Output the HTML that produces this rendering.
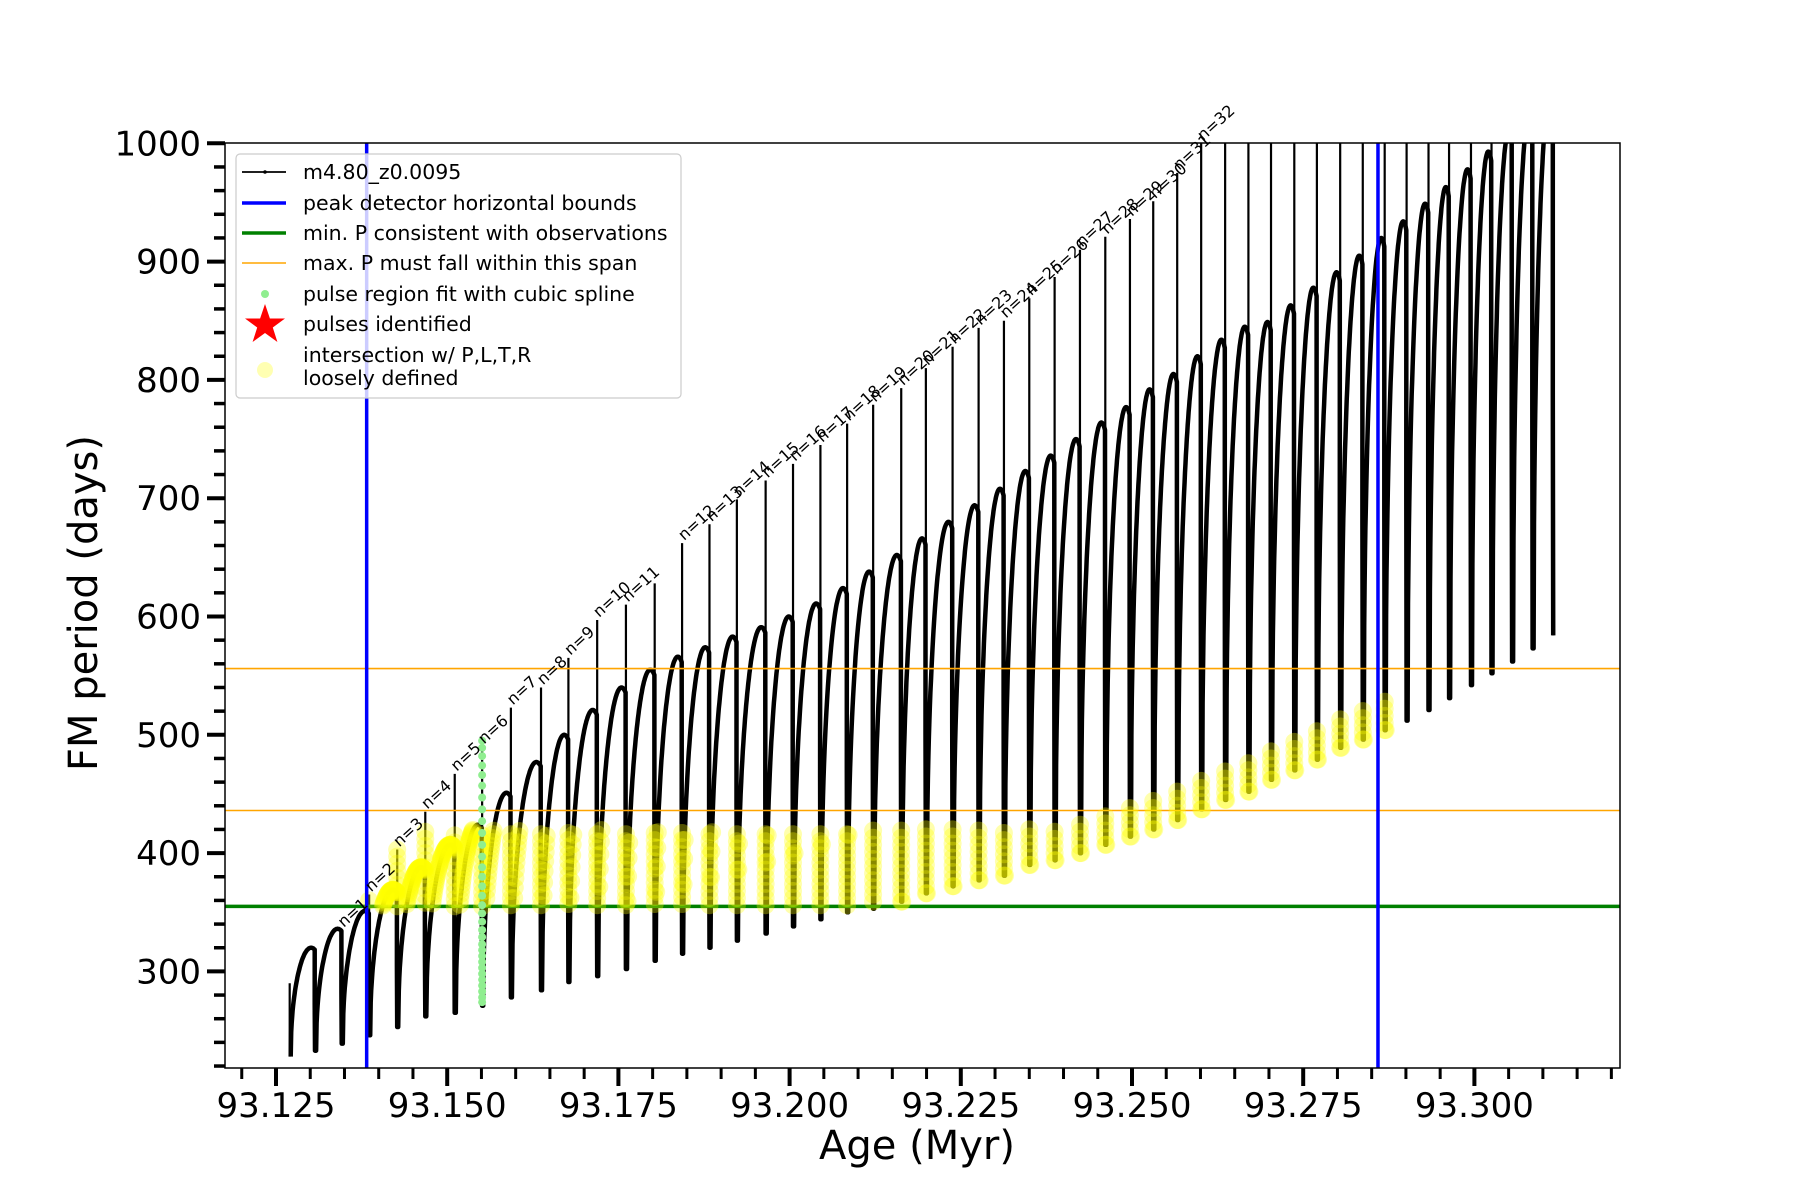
<!DOCTYPE html>
<html><head><meta charset="utf-8"><style>
html,body{margin:0;padding:0;background:#fff;}
svg{display:block;}
text{font-family:"DejaVu Sans","Liberation Sans",sans-serif;}
</style></head><body>
<svg id="chart" width="1800" height="1200" viewBox="0 0 1800 1200" xmlns="http://www.w3.org/2000/svg">
<rect x="0" y="0" width="1800" height="1200" fill="#fff"/>
<g id="plot"></g>
<g id="axes"></g>
<g id="legend"></g>
</svg>
<script>
// ---- data ----
const pulseAges=[93.1270,93.1307,93.1346,93.1386,93.1427,93.1468,93.1511,93.1551,93.1593,93.1637,
93.1677,93.1719,93.1761,93.1803,93.1843,93.1883,93.1923,93.1965,93.2005,93.2045,
93.2084,93.2122,93.2163,93.2199,93.2238,93.2276,93.2313,93.2350,93.2387,93.2424,
93.2461,93.2497,93.2531,93.2566,93.2601,93.2636,93.2670,93.2703,93.2737,93.2770,
93.2804,93.2837,93.2869,93.2901,93.2933,93.2963,93.2995,93.3025,93.3055,93.3085,93.3115];
const pulseMins=[228,233,239,246,253,262,265,271,278,284,291,296,302,309,315,320,326,332,338,344,
350,353,359,366,372,377,381,390,394,400,407,414,420,428,437,445,452,462,470,479,
489,496,504,512,521,531,542,552,562,573,584];
const archPeaks=[320,336,351,369,388,407,424,451,477,500,521,540,555,566,574,583,591,600,611,624,
638,652,666,680,694,708,723,736,750,764,777,792,805,820,834,845,849,863,878,891,
905,920,934,949,963,978,993,1010,1025,1040];
const spikeTops=[290,233,335,365,403,435,467,490,523,540,565,597,610,628,662,678,699,715,729,745,
763,779,793,810,828,844,850,869,887,910,921,936,951,975,1000,1010,1010,1010,1010,1010,
1010,1010,1010,1010,1010,1010,1010,1010,1010,1010,1010];
const labelPulseIdx=[2,3,4,5,6,7,8,9,10,11,12,14,15,16,17,18,19,20,21,22,23,24,25,26,27,28,29,30,31,32,33,34];
const greenAge=93.1551;
const greenVals=[495,489,482,474,466,457,447,437,427,417,407,397,388,380,372,364,356,349,342,335,329,323,318,313,308,303,298,293,288,283,278,274];
const blueBounds=[93.13824,93.28592];
const minP=355;
const maxPSpan=[436,556];
const yellowHi=420;
const yellowBand=28;
const xTicks=[93.125,93.150,93.175,93.200,93.225,93.250,93.275,93.300];
const xTickLabels=["93.125","93.150","93.175","93.200","93.225","93.250","93.275","93.300"];
const yTicks=[300,400,500,600,700,800,900,1000];
const yTickLabels=["300","400","500","600","700","800","900","1000"];

// ---- axes functions ----
const L=225,R=1620,T=143,B=1068;
const X=a=>276+(a-93.125)*6848;
const Y=v=>971.4-(v-300)*1.183;
const NS="http://www.w3.org/2000/svg";
function mk(tag,attrs,parent){const e=document.createElementNS(NS,tag);for(const k in attrs)e.setAttribute(k,attrs[k]);parent.appendChild(e);return e;}
const plot=document.getElementById('plot'),axes=document.getElementById('axes'),legend=document.getElementById('legend');

const defs=mk('defs',{},plot);
const cp=mk('clipPath',{id:'clip'},defs);
mk('rect',{x:L,y:T,width:R-L,height:B-T},cp);
const inner=mk('g',{'clip-path':'url(#clip)'},plot);



const yellowPts=[];
let d='';
const spikeG=mk('g',{},inner);


function inYellow(a,v,mn){return a>=blueBounds[0]-0.0005&&a<=blueBounds[1]+0.0012&&v>=minP&&v<=Math.max(yellowHi,mn+yellowBand);}
for(let i=0;i<pulseAges.length;i++){
  const a=pulseAges[i],mn=pulseMins[i],tp=spikeTops[i];
  if(tp>mn+2){
    const s=mk('line',{x1:X(a),y1:Y(mn),x2:X(a),y2:Y(tp),stroke:'#000','stroke-width':2.2},spikeG);
    
    
    for(let v=mn;v<=tp;v+=6){ if(inYellow(a,v,mn)) yellowPts.push([a,v]); }
  }
  if(i<archPeaks.length){
    const a2=pulseAges[i+1],pk=archPeaks[i];
    const span=a2-a-0.0002;
    for(let k=0;k<=50;k++){
      const t=k/50;
      const f=Math.pow(Math.max(0,Math.sin(Math.min(t/0.85,1.18)*Math.PI/2)),0.45);
      const aa=a+0.00015+t*span, vv=mn+(pk-mn)*f;
      d+=(d===''?'M':'L')+X(aa).toFixed(1)+' '+Y(vv).toFixed(1);
      if(inYellow(aa,vv,mn)) yellowPts.push([aa,vv]);
    }
    const mid=pulseMins[i+1]+(pk-pulseMins[i+1])*0.45;
    d+='L'+X(a2-0.00005).toFixed(1)+' '+Y(mid).toFixed(1);
    d+='L'+X(a2).toFixed(1)+' '+Y(pulseMins[i+1]).toFixed(1);
  }
}
const curve=mk('path',{d:d,fill:'none',stroke:'#000','stroke-width':4.5,'stroke-linejoin':'round'},inner);



const gl=mk('line',{x1:L,x2:R,y1:Y(minP),y2:Y(minP),stroke:'#008000','stroke-width':3.5},inner);


maxPSpan.forEach(v=>{const o=mk('line',{x1:L,x2:R,y1:Y(v),y2:Y(v),stroke:'#ffa500','stroke-width':1.6},inner);

});

const yg=mk('g',{fill:'#ffff00','fill-opacity':0.32},inner);


yellowPts.forEach(p=>{const c=mk('circle',{cx:X(p[0]).toFixed(1),cy:Y(p[1]).toFixed(1),r:9},yg);

});

const gg=mk('g',{fill:'#90ee90'},inner);


greenVals.forEach(v=>{const c=mk('circle',{cx:X(greenAge),cy:Y(v),r:4},gg);

});

blueBounds.forEach(a=>{const b=mk('line',{x1:X(a),x2:X(a),y1:T,y2:B,stroke:'#0000ff','stroke-width':3.5},inner);

});

labelPulseIdx.forEach((pi,k)=>{
  const x=X(pulseAges[pi])+2,y=Y(spikeTops[pi])-2;
  const t=mk('text',{x:x,y:y,'font-size':16,fill:'#000',transform:`rotate(-42 ${x} ${y})`},plot);
  t.textContent='n='+(k+1);
  
  
});

const fr=mk('rect',{x:L,y:T,width:R-L,height:B-T,fill:'none',stroke:'#000','stroke-width':1.5},axes);


for(let a=93.120;a<=93.3201;a+=0.005){
  const x=X(a); if(x<L-1||x>R+1) continue;
  const major=xTicks.some(t=>Math.abs(t-a)<1e-6);
  const tk=mk('line',{x1:x,x2:x,y1:B,y2:B+(major?18:11),stroke:'#000','stroke-width':major?4:3},axes);
  
  
}
xTicks.forEach((a,i)=>{const t=mk('text',{x:X(a),y:1117,'font-size':34,'text-anchor':'middle',fill:'#000'},axes);
t.textContent=xTickLabels[i];

});
for(let v=220;v<=1000;v+=20){
  const y=Y(v); if(y>B+1) continue;
  const major=v%100===0;
  const tk=mk('line',{x1:L,x2:L-(major?18:11),y1:y,y2:y,stroke:'#000','stroke-width':major?4:3.5},axes);
  
  
}
yTicks.forEach((v,i)=>{const t=mk('text',{x:201,y:Y(v)+12,'font-size':34,'text-anchor':'end',fill:'#000'},axes);
t.textContent=yTickLabels[i];

});
const xl=mk('text',{x:917,y:1159,'font-size':40,'text-anchor':'middle',fill:'#000'},axes);
xl.textContent='Age (Myr)';


const yl=mk('text',{x:0,y:0,'font-size':40,'text-anchor':'middle',fill:'#000',transform:'translate(97 603) rotate(-90)'},axes);
yl.textContent='FM period (days)';



const lb=mk('rect',{x:236,y:154,width:445,height:244,rx:4,fill:'#fff','fill-opacity':0.8,stroke:'#ccc','stroke-width':1.2},legend);


const entries=[
 {y:172,t:['m4.80_z0.0095'],n:'legend-model'},
 {y:203,t:['peak detector horizontal bounds'],n:'legend-peak-bounds'},
 {y:233,t:['min. P consistent with observations'],n:'legend-min-p'},
 {y:263,t:['max. P must fall within this span'],n:'legend-max-p'},
 {y:294,t:['pulse region fit with cubic spline'],n:'legend-spline'},
 {y:324,t:['pulses identified'],n:'legend-pulses'},
 {y:355,t:['intersection w/ P,L,T,R','loosely defined'],n:'legend-intersection'}];
entries.forEach((e,i)=>{
  const g=mk('g',{},legend);
  
  
  const hx1=242,hx2=286,cy=(i===6)?370:e.y;
  if(i===0){mk('line',{x1:hx1,x2:hx2,y1:cy,y2:cy,stroke:'#000','stroke-width':1.8},g);mk('circle',{cx:265,cy:cy,r:1.8,fill:'#000'},g);}
  if(i===1)mk('line',{x1:hx1,x2:hx2,y1:cy,y2:cy,stroke:'#0000ff','stroke-width':3.5},g);
  if(i===2)mk('line',{x1:hx1,x2:hx2,y1:cy,y2:cy,stroke:'#008000','stroke-width':3.5},g);
  if(i===3)mk('line',{x1:hx1,x2:hx2,y1:cy,y2:cy,stroke:'#ffa500','stroke-width':1.6},g);
  if(i===4)mk('circle',{cx:265,cy:cy,r:4,fill:'#90ee90'},g);
  if(i===5)mk('polygon',{points:'265,304 269.9,318.5 285,318.5 272.8,327.5 277.4,342 265,333 252.6,342 257.2,327.5 245,318.5 260.1,318.5',fill:'#ff0000'},g);
  if(i===6)mk('circle',{cx:265,cy:cy,r:8,fill:'#ffff00','fill-opacity':0.3},g);
  e.t.forEach((s,j)=>{const t=mk('text',{x:303,y:e.y+7+j*23,'font-size':20.5,fill:'#000'},g);t.textContent=s;});
});
</script>
</body></html>
